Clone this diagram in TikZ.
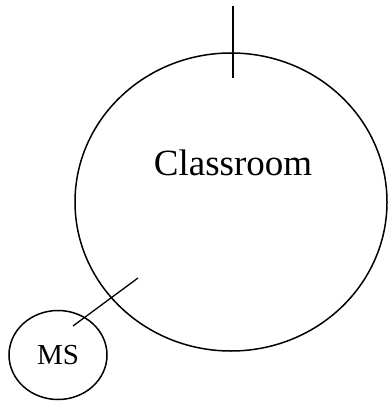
\documentclass[tikz,border=0pt]{standalone}
\usepackage{fontspec}
\setmainfont{Liberation Serif}
\usetikzlibrary{shapes.geometric, positioning}

\tikzset{
  zone/.style={ellipse, draw, line width=1.5pt, inner sep=0pt},
  link/.style={line width=1.3pt}
}

\begin{document}
\begin{tikzpicture}[x=1pt, y=-1pt]
    \useasboundingbox (0,0) rectangle (388,403);

    \node[zone, minimum width=312pt, minimum height=298pt] (room) at (231, 202) {};
    \node[font=\fontsize{37}{40}\selectfont] (roomlbl) at (233, 163) {Classroom};
    \node[zone, minimum width=98pt, minimum height=89pt,
          font=\fontsize{29}{32}\selectfont] (ms) at (58, 355) {MS};

    \coordinate (tapA) at (233, 6);
    \coordinate (tapB) at (233, 78);
    \coordinate (msA) at (138, 278);
    \coordinate (msB) at (73, 326);

    \draw[link] (tapA) -- (tapB);
    \draw[link] (msA) -- (msB);
\end{tikzpicture}
\end{document}
